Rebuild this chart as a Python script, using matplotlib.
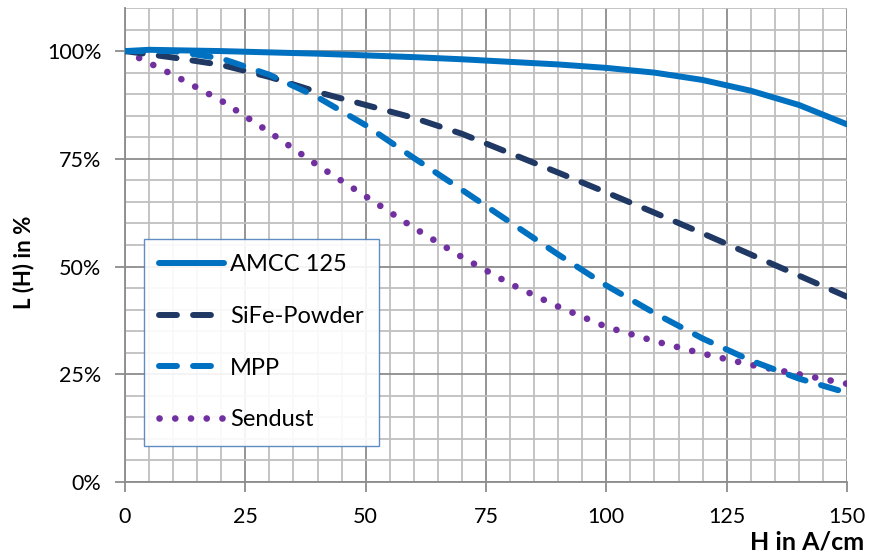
import matplotlib.pyplot as plt
from matplotlib.ticker import MultipleLocator, FuncFormatter

plt.rcParams['font.family'] = ['Lato', 'DejaVu Sans']

# data
amcc_h = [0, 5, 10, 20, 30, 40, 50, 60, 70, 80, 90, 100, 110, 120, 130, 140, 150]
amcc_l = [100, 100.3, 100.2, 100, 99.7, 99.4, 99.0, 98.6, 98.1, 97.5, 96.9, 96.1, 95.0, 93.3, 90.8, 87.5, 83.0]

sife_h = [0, 10, 20, 30, 40, 50, 60, 70, 80, 90, 100, 110, 120, 130, 140, 150]
sife_l = [100, 98.5, 96.8, 94.0, 90.5, 87.5, 84.5, 80.8, 76.3, 71.8, 67.2, 62.5, 57.7, 52.8, 47.9, 43.0]

mpp_h = [0, 10, 20, 30, 40, 50, 60, 70, 80, 90, 100, 110, 120, 130, 140, 150]
mpp_l = [100, 100, 98.3, 94.5, 89.3, 82.8, 75.2, 67.8, 60.3, 52.8, 45.6, 39.2, 33.3, 28.2, 24.0, 20.7]

send_h = [0, 10, 20, 30, 40, 50, 60, 70, 80, 90, 100, 110, 120, 130, 140, 150]
send_l = [100, 94.5, 88.5, 81.2, 73.5, 66.3, 59.0, 52.2, 46.0, 40.7, 36.0, 32.7, 29.8, 27.2, 25.0, 22.8]

fig = plt.figure(figsize=(8.69, 5.57), dpi=100)
ax = fig.add_axes([125 / 869, 1 - 482 / 557, 722 / 869, 474 / 557])

ax.plot(amcc_h, amcc_l, color='#0070C0', lw=4.3, solid_capstyle='round', label='AMCC 125', zorder=5)
ax.plot(sife_h, sife_l, color='#1F3864', lw=4.3, linestyle=(0, (3.0, 2.7)), dash_capstyle='round',
        label='SiFe-Powder', zorder=4)
ax.plot(mpp_h, mpp_l, color='#0070C0', lw=4.3, linestyle=(0, (3.0, 2.7)), dash_capstyle='round',
        label='MPP', zorder=4)
ax.plot(send_h, send_l, color='#7030A0', lw=4.8, linestyle=(0, (0.01, 2.35)), dash_capstyle='round',
        label='Sendust', zorder=3)

ax.set_xlim(0, 150)
ax.set_ylim(0, 110)
ax.xaxis.set_major_locator(MultipleLocator(25))
ax.xaxis.set_minor_locator(MultipleLocator(5))
ax.set_yticks([0, 25, 50, 75, 100])
ax.yaxis.set_minor_locator(MultipleLocator(5))
ax.yaxis.set_major_formatter(FuncFormatter(lambda v, p: f'{v:.0f}%'))

ax.grid(which='minor', color='#BFBFBF', lw=1.3)
ax.grid(which='major', color='#8C8C8C', lw=1.3)
ax.set_axisbelow(True)

for s in ['top', 'right']:
    ax.spines[s].set_visible(False)
for s in ['left', 'bottom']:
    ax.spines[s].set_color('#8C8C8C')
    ax.spines[s].set_linewidth(1.3)

ax.tick_params(which='major', length=7, width=1.3, color='#8C8C8C', labelsize=15.5)
ax.tick_params(axis='y', which='major', pad=10)
ax.tick_params(axis='x', which='major', pad=11)
ax.tick_params(which='minor', length=0)

ax.set_ylabel('L (H) in %', fontsize=16, fontweight='bold')
ax.yaxis.set_label_coords(-0.126, 0.464)
fig.text(864 / 869, 1 - 542 / 557, 'H in A/cm', fontsize=18, fontweight='bold', ha='right', va='center')

leg = ax.legend(loc='upper left', bbox_to_anchor=(0.026, 0.513), fontsize=17, handlelength=2.75,
                handletextpad=0.25, labelspacing=1.3, borderpad=0.65, fancybox=False, framealpha=0.9,
                borderaxespad=0)
leg.get_frame().set_edgecolor('#4F81BD')
leg.get_frame().set_linewidth(1.0)

fig.savefig('out.png', dpi=100)
